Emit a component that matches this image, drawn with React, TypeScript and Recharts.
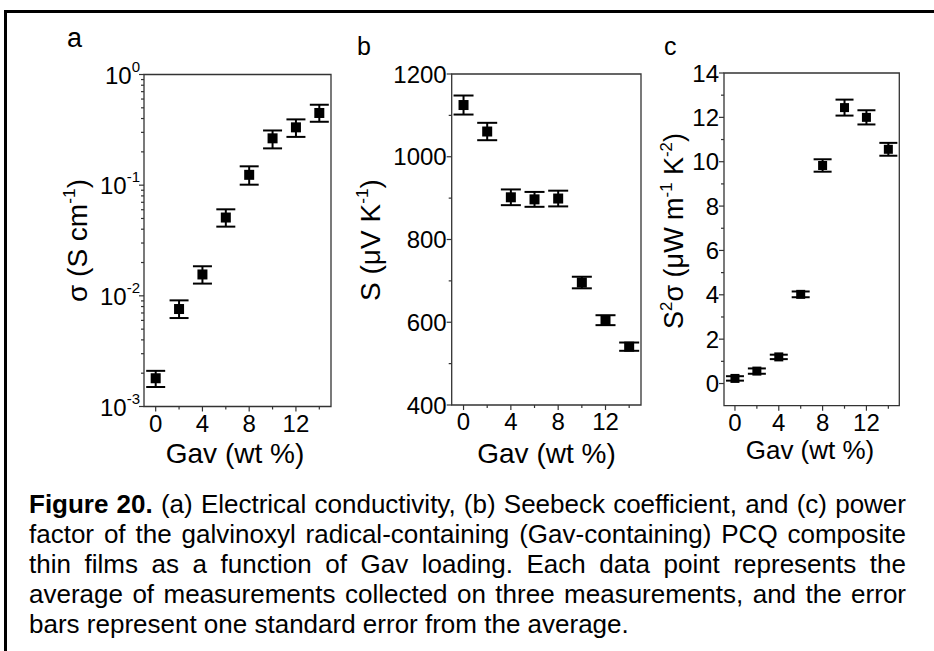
import React from 'react'
import { ScatterChart, Scatter, XAxis, YAxis, ErrorBar, ReferenceArea } from 'recharts'

const FONT = '"Liberation Sans", Arial, Helvetica, sans-serif'
const AXIS = '#333'
const INK = '#000'

// Gav loading (wt %)
const gav = [0, 2, 4, 6, 8, 10, 12, 14]
const gavTicks = [0, 2, 4, 6, 8, 10, 12, 14]
const gavLabels = [0, 4, 8, 12]

// (a) conductivity, S/cm (log axis)
const sigma = [0.0018, 0.0076, 0.0156, 0.051, 0.124, 0.265, 0.333, 0.449]
const sigmaLow = [0.0015, 0.0063, 0.0129, 0.0422, 0.101, 0.215, 0.273, 0.374]
const sigmaHigh = [0.0021, 0.0091, 0.0185, 0.0605, 0.148, 0.312, 0.393, 0.533]
const sigmaTicks = [
  0.001, 0.002, 0.003, 0.004, 0.005, 0.006, 0.007, 0.008, 0.009,
  0.01, 0.02, 0.03, 0.04, 0.05, 0.06, 0.07, 0.08, 0.09,
  0.1, 0.2, 0.3, 0.4, 0.5, 0.6, 0.7, 0.8, 0.9, 1,
]
const sigmaMajor = [0.001, 0.01, 0.1, 1]

// (b) Seebeck, uV/K
const seebeck = [1125, 1061, 902, 897, 899, 696, 605, 541]
const seebeckErr = [23, 21, 19, 18, 19, 14, 12, 10]
const seebeckTicks = [400, 500, 600, 700, 800, 900, 1000, 1100, 1200]
const seebeckLabels = [400, 600, 800, 1000, 1200]

// (c) power factor, uW m-1 K-2
const pf = [0.23, 0.56, 1.2, 4.02, 9.83, 12.44, 12.0, 10.56]
const pfErr = [0.1, 0.12, 0.1, 0.13, 0.28, 0.36, 0.32, 0.29]
const pfTicks = [0, 1, 2, 3, 4, 5, 6, 7, 8, 9, 10, 11, 12, 13, 14]
const pfLabels = [0, 2, 4, 6, 8, 10, 12, 14]

const dataA = gav.map((x, i) => ({ x, y: sigma[i], err: [sigma[i] - sigmaLow[i], sigmaHigh[i] - sigma[i]] }))
const dataB = gav.map((x, i) => ({ x, y: seebeck[i], err: seebeckErr[i] }))
const dataC = gav.map((x, i) => ({ x, y: pf[i], err: pfErr[i] }))

const captionLines = [
  'factor of the galvinoxyl radical-containing (Gav-containing) PCQ composite',
  'thin films as a function of Gav loading. Each data point represents the',
  'average of measurements collected on three measurements, and the error',
  'bars represent one standard error from the average.',
]

function XTick(props: any) {
  const { x, y, payload } = props
  const major = gavLabels.includes(payload.value)
  return (
    <g>
      <line x1={x} x2={x} y1={y} y2={y + (major ? 5 : 3)} stroke={AXIS} strokeWidth={1.2} />
      {major && (
        <text x={x} y={y + 25} textAnchor="middle" fontSize={24} fontFamily={FONT} fill={INK}>
          {payload.value}
        </text>
      )}
    </g>
  )
}

function LogTick(props: any) {
  const { x, y, payload } = props
  const v = payload.value
  const major = sigmaMajor.includes(v)
  const exp = Math.round(Math.log10(v))
  return (
    <g>
      <line x1={x} x2={x - (major ? 5 : 3)} y1={y} y2={y} stroke={AXIS} strokeWidth={1.2} />
      {major && (
        <text x={x - 4} y={y + 9} textAnchor="end" fontSize={24} fontFamily={FONT} fill={INK}>
          10
          <tspan dy={-12} fontSize={15}>
            {String(exp)}
          </tspan>
        </text>
      )}
    </g>
  )
}

const linTick = (labels: number[]) =>
  function LinTick(props: any) {
    const { x, y, payload } = props
    const major = labels.includes(payload.value)
    return (
      <g>
        <line x1={x} x2={x - (major ? 5 : 3)} y1={y} y2={y} stroke={AXIS} strokeWidth={1.2} />
        {major && (
          <text x={x - 5} y={y + 8.5} textAnchor="end" fontSize={24} fontFamily={FONT} fill={INK}>
            {payload.value}
          </text>
        )}
      </g>
    )
  }

const square = (size: number) =>
  function Square(props: any) {
    const { cx, cy } = props
    if (cx == null || cy == null) return <g />
    return <rect x={cx - size / 2} y={cy - size / 2} width={size} height={size} fill={INK} />
  }

function XTitle({ tx, ty, fs }: any) {
  return (
    <text x={tx} y={ty} textAnchor="middle" fontSize={fs} fontFamily={FONT} fill={INK}>
      Gav (wt %)
    </text>
  )
}

function YTitle({ tx, ty, fs, kind }: any) {
  const sup = { fontSize: fs * 0.62 }
  let body: React.ReactNode
  if (kind === 'a') {
    body = (
      <>
        σ (S cm
        <tspan dy={-fs * 0.42} {...sup}>-1</tspan>
        <tspan dy={fs * 0.42}>)</tspan>
      </>
    )
  } else if (kind === 'b') {
    body = (
      <>
        S (μV K
        <tspan dy={-fs * 0.42} {...sup}>-1</tspan>
        <tspan dy={fs * 0.42}>)</tspan>
      </>
    )
  } else {
    body = (
      <>
        S
        <tspan dy={-fs * 0.42} {...sup}>2</tspan>
        <tspan dy={fs * 0.42}>σ (μW m</tspan>
        <tspan dy={-fs * 0.42} {...sup}>-1</tspan>
        <tspan dy={fs * 0.42}> K</tspan>
        <tspan dy={-fs * 0.42} {...sup}>-2</tspan>
        <tspan dy={fs * 0.42}>)</tspan>
      </>
    )
  }
  return (
    <text
      x={tx}
      y={ty}
      transform={`rotate(-90 ${tx} ${ty})`}
      textAnchor="middle"
      fontSize={fs}
      fontFamily={FONT}
      fill={INK}
    >
      {body}
    </text>
  )
}

interface PanelProps {
  left: number
  width: number
  plotLeft: number
  plotTop: number
  plotRight: number
  plotBottom: number
  data: any[]
  yDomain: [number, number]
  yTicks: number[]
  yTick: any
  log?: boolean
  markSize: number
  capWidth: number
  xTitle: { x: number; y: number; fs: number }
  yTitle: { x: number; y: number; fs: number; kind: string }
}

const CH = 480

function Panel(p: PanelProps) {
  const xAxisH = 60
  return (
    <div style={{ position: 'absolute', left: p.left, top: 0 }}>
      <ScatterChart
        width={p.width}
        height={CH}
        margin={{
          top: p.plotTop,
          right: p.left + p.width - p.plotRight,
          left: 0,
          bottom: CH - p.plotBottom - xAxisH,
        }}
      >
        <XAxis
          type="number"
          dataKey="x"
          domain={[-1, 15]}
          ticks={gavTicks}
          interval={0}
          allowDataOverflow
          height={xAxisH}
          axisLine={false}
          tickLine={false}
          tickSize={0}
          tickMargin={0}
          tick={XTick}
          label={<XTitle tx={p.xTitle.x - p.left} ty={p.xTitle.y} fs={p.xTitle.fs} />}
        />
        <YAxis
          type="number"
          dataKey="y"
          scale={p.log ? 'log' : 'linear'}
          domain={p.yDomain}
          ticks={p.yTicks}
          interval={0}
          allowDataOverflow
          width={p.plotLeft - p.left}
          axisLine={false}
          tickLine={false}
          tickSize={0}
          tickMargin={0}
          tick={p.yTick}
          label={
            <YTitle tx={p.yTitle.x - p.left} ty={p.yTitle.y} fs={p.yTitle.fs} kind={p.yTitle.kind} />
          }
        />
        <ReferenceArea
          x1={-1}
          x2={15}
          y1={p.yDomain[0]}
          y2={p.yDomain[1]}
          fill="none"
          stroke={AXIS}
          strokeWidth={1.3}
          fillOpacity={0}
        />
        <Scatter data={p.data} dataKey="y" shape={square(p.markSize)} isAnimationActive={false}>
          <ErrorBar
            dataKey="err"
            direction="y"
            width={p.capWidth / 2}
            stroke={INK}
            strokeWidth={2}
            isAnimationActive={false}
          />
        </Scatter>
      </ScatterChart>
    </div>
  )
}

export default function App() {
  return (
    <div
      style={{
        position: 'absolute',
        left: 0,
        top: 0,
        width: 934,
        height: 651,
        overflow: 'hidden',
        background: '#fff',
        fontFamily: FONT,
      }}
    >
      <div
        style={{
          position: 'absolute',
          left: 4,
          top: 10,
          width: 1000,
          height: 700,
          border: '3px solid #000',
          boxSizing: 'border-box',
        }}
      />

      <Panel
        left={0}
        width={340}
        plotLeft={144}
        plotTop={74.5}
        plotRight={331}
        plotBottom={406.5}
        data={dataA}
        yDomain={[0.001, 1]}
        yTicks={sigmaTicks}
        yTick={LogTick}
        log
        markSize={10}
        capWidth={19}
        xTitle={{ x: 235, y: 463, fs: 28 }}
        yTitle={{ x: 87, y: 240.5, fs: 28, kind: 'a' }}
      />
      <Panel
        left={340}
        width={310}
        plotLeft={451.7}
        plotTop={74}
        plotRight={641}
        plotBottom={405}
        data={dataB}
        yDomain={[400, 1200]}
        yTicks={seebeckTicks}
        yTick={linTick(seebeckLabels)}
        markSize={10}
        capWidth={20}
        xTitle={{ x: 546.5, y: 463, fs: 28 }}
        yTitle={{ x: 380, y: 240, fs: 28, kind: 'b' }}
      />
      <Panel
        left={650}
        width={284}
        plotLeft={724}
        plotTop={73}
        plotRight={899.3}
        plotBottom={405.7}
        data={dataC}
        yDomain={[-1, 14]}
        yTicks={pfTicks}
        yTick={linTick(pfLabels)}
        markSize={9}
        capWidth={18}
        xTitle={{ x: 810, y: 459, fs: 26 }}
        yTitle={{ x: 683, y: 231, fs: 27, kind: 'c' }}
      />

      <svg width={934} height={80} style={{ position: 'absolute', left: 0, top: 0, pointerEvents: 'none' }}>
        <text x={67} y={47} fontSize={27} fontFamily={FONT} fill={INK}>a</text>
        <text x={357} y={55} fontSize={25} fontFamily={FONT} fill={INK}>b</text>
        <text x={664} y={55} fontSize={25} fontFamily={FONT} fill={INK}>c</text>
      </svg>

      <div
        style={{
          position: 'absolute',
          left: 29,
          top: 489,
          width: 877,
          fontSize: 26,
          lineHeight: '30px',
          color: INK,
          fontFamily: FONT,
        }}
      >
        <div style={{ textAlign: 'justify', textAlignLast: 'justify', whiteSpace: 'nowrap' as any }}>
          <b>Figure 20.</b> (a) Electrical conductivity, (b) Seebeck coefficient, and (c) power
        </div>
        {captionLines.map((line, i) => (
          <div
            key={i}
            style={{
              textAlign: 'justify',
              textAlignLast: i < captionLines.length - 1 ? 'justify' : 'left',
            }}
          >
            {line}
          </div>
        ))}
      </div>
    </div>
  )
}
